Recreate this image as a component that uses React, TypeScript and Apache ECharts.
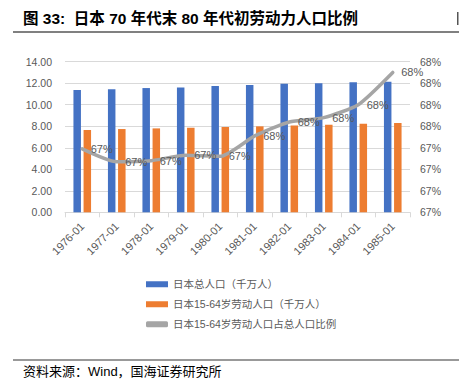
import React, { useEffect, useRef } from "react";
import * as echarts from "echarts";

const categories = ["1976-01", "1977-01", "1978-01", "1979-01", "1980-01", "1981-01", "1982-01", "1983-01", "1984-01", "1985-01"];
const totalPop = [11.37, 11.43, 11.55, 11.61, 11.74, 11.83, 11.95, 12.0, 12.08, 12.14];
const laborPop = [7.65, 7.74, 7.8, 7.86, 7.93, 7.99, 8.08, 8.14, 8.23, 8.3];
const laborRatio = [67.39, 67.27, 67.28, 67.33, 67.32, 67.51, 67.64, 67.68, 67.8, 68.1];
const seriesNames = ["日本总人口（千万人）", "日本15-64岁劳动人口（千万人）", "日本15-64岁劳动人口占总人口比例"];
const titleText = "图 33:  日本 70 年代末 80 年代初劳动力人口比例";
const sourceText = "资料来源：Wind，国海证券研究所";

export default function App() {
  const ref = useRef<HTMLDivElement>(null);
  useEffect(() => {
    document.body.style.margin = "0";
    const chart = echarts.init(ref.current!, null, { renderer: "svg" });
    const font = "'Liberation Sans', 'Noto Sans CJK SC', sans-serif";
    chart.setOption({
      animation: false,
      backgroundColor: "#ffffff",
      textStyle: { fontFamily: font },
      graphic: [
        {
          type: "text",
          left: 23,
          top: 11,
          style: { text: titleText, fontSize: 15.5, fontWeight: "bold", fill: "#000", fontFamily: font },
        },
        { type: "rect", shape: { x: 13, y: 31, width: 446, height: 2 }, style: { fill: "#808080" } },
        { type: "rect", shape: { x: 457, y: 12, width: 1.5, height: 13 }, style: { fill: "#555" } },
        { type: "rect", shape: { x: 13, y: 359, width: 446, height: 2 }, style: { fill: "#999999" } },
        {
          type: "text",
          left: 23,
          top: 365,
          style: { text: sourceText, fontSize: 13, fill: "#000", fontFamily: font },
        },
      ],
      grid: { left: 65, right: 49, top: 61.7, bottom: 172.7, containLabel: false },
      legend: {
        orient: "vertical",
        left: 141,
        top: 274,
        itemWidth: 22,
        itemHeight: 6,
        itemGap: 9.5,
        textStyle: { fontSize: 10.5, color: "#595959" },
        data: [
          { name: seriesNames[0], icon: "rect" },
          { name: seriesNames[1], icon: "rect" },
          { name: seriesNames[2], icon: "roundRect" },
        ],
      },
      xAxis: {
        type: "category",
        data: categories,
        axisLine: { lineStyle: { color: "#D9D9D9", width: 1 } },
        axisTick: { show: true, length: 5, lineStyle: { color: "#D9D9D9" } },
        axisLabel: { rotate: 45, fontSize: 11, color: "#595959", margin: 12 },
      },
      yAxis: [
        {
          type: "value",
          min: 0,
          max: 14,
          interval: 2,
          axisLine: { show: false },
          axisTick: { show: false },
          splitLine: { lineStyle: { color: "#D9D9D9", width: 1 } },
          axisLabel: { fontSize: 10.5, color: "#595959", margin: 13, formatter: (v: number) => v.toFixed(2) },
        },
        {
          type: "value",
          min: 66.8,
          max: 68.2,
          interval: 0.2,
          position: "right",
          axisLine: { show: false },
          axisTick: { show: false },
          splitLine: { show: false },
          axisLabel: { fontSize: 10.5, color: "#595959", margin: 10, formatter: (v: number) => Math.round(v) + "%" },
        },
      ],
      series: [
        {
          name: seriesNames[0],
          type: "bar",
          data: totalPop,
          barWidth: 7.5,
          barGap: "35%",
          itemStyle: { color: "#4472C4" },
        },
        {
          name: seriesNames[1],
          type: "bar",
          data: laborPop,
          barWidth: 7.5,
          barGap: "35%",
          itemStyle: { color: "#ED7D31" },
        },
        {
          name: seriesNames[2],
          type: "line",
          yAxisIndex: 1,
          data: laborRatio,
          symbol: "circle",
          symbolSize: 1,
          showSymbol: true,
          smooth: 0.2,
          itemStyle: { color: "#A5A5A5" },
          lineStyle: { color: "#A5A5A5", width: 3.5, cap: "round" },
          label: {
            show: true,
            position: "right",
            distance: 8,
            fontSize: 11,
            color: "#595959",
            formatter: (p: any) => Math.round(p.value) + "%",
          },
          z: 5,
        },
      ],
    });
    return () => chart.dispose();
  }, []);
  return <div ref={ref} style={{ width: 459, height: 385 }} />;
}
